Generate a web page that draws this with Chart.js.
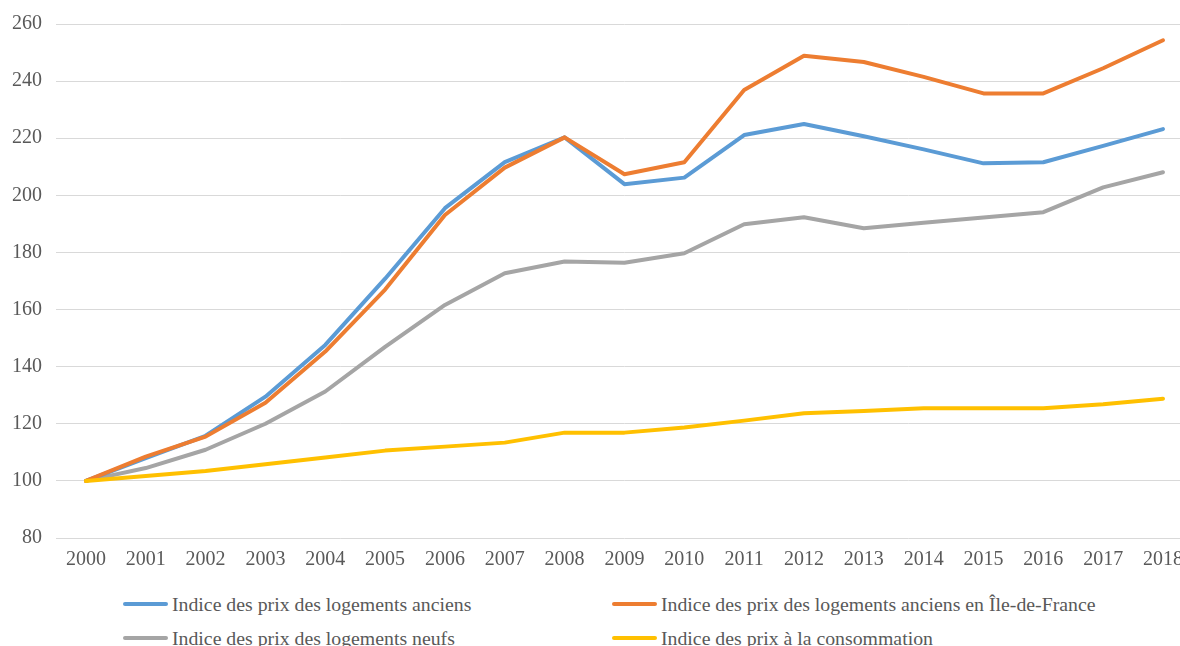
<!DOCTYPE html>
<html>
<head>
<meta charset="utf-8">
<script src="https://cdn.jsdelivr.net/npm/chart.js@4.4.1/dist/chart.umd.min.js"></script>
<style>
  html, body { margin: 0; padding: 0; background: #fff; overflow: hidden; width: 1180px; height: 646px; }
  #wrap { position: absolute; left: 0; top: -2px; width: 1193px; height: 580px; }
  .leg { position: absolute; height: 30px; display: flex; align-items: center; font-family: "Liberation Serif", "Times New Roman", serif; font-size: 19.8px; color: #595959; white-space: nowrap; }
  .leg .sw { width: 45px; height: 4px; border-radius: 2px; margin-right: 4px; }
</style>
</head>
<body>
<div id="wrap"><canvas id="c"></canvas></div>
<div id="legend"></div>
<script>
const categories = ["2000","2001","2002","2003","2004","2005","2006","2007","2008","2009","2010","2011","2012","2013","2014","2015","2016","2017","2018"];
const seriesNames = [
  "Indice des prix des logements anciens",
  "Indice des prix des logements anciens en Île-de-France",
  "Indice des prix des logements neufs",
  "Indice des prix à la consommation"
];
const anciens = [100,108,115.8,129.5,147.6,170.8,195.5,211.6,220.3,203.9,206.2,221.1,225.0,220.7,216.1,211.2,211.6,217.3,223.2];
const anciensIDF = [100,108.5,115.5,127.4,145.3,167.0,193.1,209.7,220.3,207.4,211.6,236.9,248.9,246.7,241.5,235.7,235.7,244.5,254.3];
const neufs = [100,104.5,110.9,120.0,131.3,146.9,161.6,172.7,176.8,176.4,179.7,189.9,192.3,188.5,190.4,192.2,194.1,202.8,208.1];
const consommation = [100,101.7,103.5,105.8,108.2,110.6,112.0,113.4,116.9,116.9,118.7,121.1,123.7,124.5,125.4,125.4,125.4,126.8,128.8];
const yTicks = [80,100,120,140,160,180,200,220,240,260];

const colors = ["#5B9BD5", "#ED7D31", "#A5A5A5", "#FFC000"];
const values = [anciens, anciensIDF, neufs, consommation];
const FONT = "'Liberation Serif', 'Times New Roman', serif";

const datasets = values.map((v, i) => ({
  label: seriesNames[i],
  data: v,
  borderColor: colors[i],
  backgroundColor: colors[i],
  borderWidth: 4,
  pointRadius: 0,
  borderCapStyle: 'round',
  borderJoinStyle: 'round',
  tension: 0,
  fill: false
}));
datasets[0].order = 3; datasets[1].order = 2; datasets[2].order = 4; datasets[3].order = 1;

function draw() {
  new Chart(document.getElementById('c'), {
    type: 'line',
    data: { labels: categories, datasets },
    options: {
      responsive: true,
      maintainAspectRatio: false,
      animation: false,
      layout: { padding: { top: 11, right: 0, left: 0, bottom: 0 } },
      plugins: { legend: { display: false }, tooltip: { enabled: false } },
      scales: {
        x: {
          offset: true,
          grid: { display: false, drawTicks: false },
          border: { display: false },
          ticks: { color: '#595959', font: { family: FONT, size: 20 }, padding: 10, maxRotation: 0, autoSkip: false },
          afterFit: (s) => { s.height = 40; }
        },
        y: {
          min: 80, max: 260,
          afterBuildTicks: (s) => { s.ticks = yTicks.map(v => ({ value: v })); },
          grid: { color: '#d9d9d9', lineWidth: 1, drawTicks: false },
          border: { display: false },
          ticks: { color: '#595959', font: { family: FONT, size: 20 }, padding: 14 },
          afterFit: (s) => { s.width = 56; }
        }
      }
    }
  });
}
if (document.fonts && document.fonts.load) {
  document.fonts.load("20px 'Liberation Serif'").then(draw, draw);
} else { draw(); }

const leg = document.getElementById('legend');
const pos = [[123, 589], [612, 589], [123, 623], [612, 623]];
seriesNames.forEach((n, i) => {
  const d = document.createElement('div');
  d.className = 'leg';
  d.style.left = pos[i][0] + 'px';
  d.style.top = pos[i][1] + 'px';
  d.innerHTML = '<span class="sw" style="background:' + colors[i] + '"></span><span>' + n + '</span>';
  leg.appendChild(d);
});
</script>
</body>
</html>
